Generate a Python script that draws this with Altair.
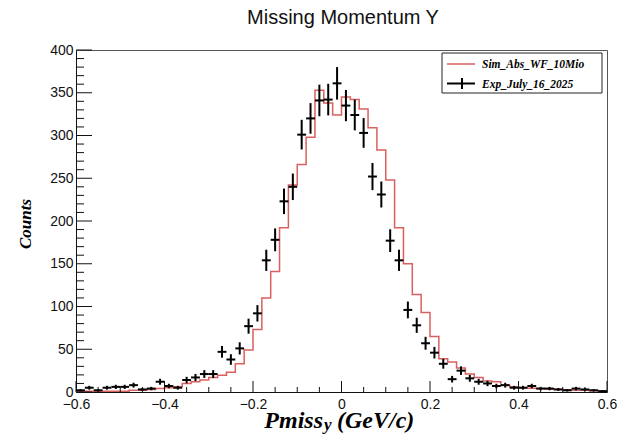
import altair as alt
import pandas as pd
import numpy as np

# ---- data (60 bins of width 0.02 from -0.6 to 0.6) ----
x_min = -0.6
bin_width = 0.02
sim_counts = [1, 1, 1, 1, 1, 1, 2, 2, 3, 4,
              5, 6, 10, 12, 14, 17, 19.5, 23, 33, 49,
              73, 110, 141, 192, 242, 266, 298, 353, 338, 324,
              345, 342, 331, 309, 283, 248, 192, 150, 114, 93,
              65, 39, 35, 28, 21, 17, 13, 12, 8, 6,
              5, 4.5, 4, 3.5, 3, 2.5, 2, 2, 1.5, 1]
exp_counts = [2, 5, 2, 5, 6, 6, 8, 3, 4, 12,
              7, 5, 14, 17, 21, 21, 47, 38, 51, 77,
              92, 154, 178, 223, 240, 301, 320, 341, 342, 361,
              335, 324, 303, 252, 231, 177, 154, 96, 78, 57,
              46, 33, 15, 25, 16, 12, 10, 7, 8, 5,
              5, 7, 4, 4, 3, 2, 4, 3, 2, 1]
x_tick_major = [-0.6, -0.4, -0.2, 0.0, 0.2, 0.4, 0.6]
y_tick_major = list(range(0, 401, 50))

n = len(sim_counts)
lo = [round(x_min + bin_width * i, 4) for i in range(n)]
hi = [round(v + bin_width, 4) for v in lo]
center = [round(v + bin_width / 2, 4) for v in lo]

step_df = pd.DataFrame({"x": lo + [hi[-1]], "y": sim_counts + [sim_counts[-1]]})
exp_df = pd.DataFrame({
    "c": center, "lo": lo, "hi": hi, "n": exp_counts,
    "elo": [v - np.sqrt(v) for v in exp_counts],
    "ehi": [v + np.sqrt(v) for v in exp_counts],
})

x_minor = [round(v, 3) for v in np.arange(-0.6, 0.6001, 0.05)
           if round(v, 3) not in [round(m, 3) for m in x_tick_major]]
y_minor = [v for v in range(0, 401, 10) if v % 50 != 0]

W, H = 531, 342
xs = alt.Scale(domain=[-0.6, 0.6], nice=False, zero=False)
ys = alt.Scale(domain=[0, 400], nice=False)

sans = "Liberation Sans"
serif = "Liberation Serif"

x_axis = alt.Axis(values=x_tick_major, tickSize=0, labelPadding=5, labelFlush=False,
                  labelExpr="datum.value == 0 ? '0' : format(datum.value, '.1f')",
                  labelFont=sans, labelFontSize=14, labelColor="#111", grid=False,
                  domainColor="#111", title=None)
y_axis = alt.Axis(values=y_tick_major, tickSize=0, labelPadding=3, labelFont=sans,
                  labelFontSize=14, labelColor="#111", grid=False, domainColor="#111",
                  title=None)

sim_line = alt.Chart(step_df).mark_line(interpolate="step-after", color="#d9605f",
                                         strokeWidth=1.5).encode(
    x=alt.X("x:Q", scale=xs, axis=x_axis),
    y=alt.Y("y:Q", scale=ys, axis=y_axis),
)

exp_v = alt.Chart(exp_df).mark_rule(color="black", strokeWidth=2).encode(
    x=alt.X("c:Q", scale=xs, axis=x_axis),
    y=alt.Y("elo:Q", scale=ys, axis=y_axis),
    y2="ehi:Q",
)
exp_h = alt.Chart(exp_df).mark_rule(color="black", strokeWidth=2).encode(
    x=alt.X("lo:Q", scale=xs, axis=x_axis),
    x2="hi:Q",
    y=alt.Y("n:Q", scale=ys, axis=y_axis),
)

# inward ticks (ROOT style)
xmaj = alt.Chart(pd.DataFrame({"v": x_tick_major})).mark_rule(color="#111").encode(
    x=alt.X("v:Q", scale=xs, axis=x_axis), y=alt.value(H), y2=alt.value(H - 11))
xmin_ = alt.Chart(pd.DataFrame({"v": x_minor})).mark_rule(color="#111").encode(
    x=alt.X("v:Q", scale=xs, axis=x_axis), y=alt.value(H), y2=alt.value(H - 5))
ymaj = alt.Chart(pd.DataFrame({"v": y_tick_major})).mark_rule(color="#111").encode(
    y=alt.Y("v:Q", scale=ys, axis=y_axis), x=alt.value(0), x2=alt.value(16))
ymin_ = alt.Chart(pd.DataFrame({"v": y_minor})).mark_rule(color="#111").encode(
    y=alt.Y("v:Q", scale=ys, axis=y_axis), x=alt.value(0), x2=alt.value(8))


def label(text, x, y, **kw):
    return alt.Chart(pd.DataFrame({"t": [text]})).mark_text(**kw).encode(
        x=alt.value(x), y=alt.value(y), text="t:N")


def one():
    return pd.DataFrame({"a": [0]})


title = label("Missing Momentum Y", 267, -26, font=sans, fontSize=20, color="#111",
              align="center", baseline="alphabetic")
ylab = label("Counts", -45, 174, font=serif, fontSize=17, fontStyle="italic",
             fontWeight="bold", angle=270, align="center", baseline="alphabetic", color="black")
xlab1 = label("Pmiss", 247, 378, font=serif, fontSize=24, fontStyle="italic",
              fontWeight="bold", align="right", baseline="alphabetic", color="black")
xlab2 = label("y", 248, 380, font=serif, fontSize=17, fontStyle="italic",
              fontWeight="bold", align="left", baseline="alphabetic", color="black")
xlab3 = label("(GeV/c)", 261, 378, font=serif, fontSize=24, fontStyle="italic",
              fontWeight="bold", align="left", baseline="alphabetic", color="black")

leg_box = alt.Chart(one()).mark_rect(fill="white", stroke="#222", strokeWidth=1).encode(
    x=alt.value(366), x2=alt.value(526), y=alt.value(3), y2=alt.value(43))
leg_red = alt.Chart(one()).mark_rule(color="#d9605f", strokeWidth=1.5).encode(
    x=alt.value(371), x2=alt.value(399), y=alt.value(14))
leg_bh = alt.Chart(one()).mark_rule(color="black", strokeWidth=2).encode(
    x=alt.value(371), x2=alt.value(399), y=alt.value(33.5))
leg_bv = alt.Chart(one()).mark_rule(color="black", strokeWidth=2).encode(
    x=alt.value(386), y=alt.value(28), y2=alt.value(39))
leg_t1 = label("Sim_Abs_WF_10Mio", 406, 18, font=serif, fontSize=11.5, fontStyle="italic",
               fontWeight="bold", align="left", baseline="alphabetic", color="black")
leg_t2 = label("Exp_July_16_2025", 406, 37.5, font=serif, fontSize=11.5, fontStyle="italic",
               fontWeight="bold", align="left", baseline="alphabetic", color="black")

chart = alt.layer(
    sim_line, exp_v, exp_h, xmaj, xmin_, ymaj, ymin_,
    title, ylab, xlab1, xlab2, xlab3,
    leg_box, leg_red, leg_bh, leg_bv, leg_t1, leg_t2,
).properties(
    width=W, height=H,
    padding={"left": 76, "top": 50, "right": 19, "bottom": 44},
    autosize=alt.AutoSizeParams(type="none"),
    background="white",
).configure_view(stroke="#555", strokeWidth=1)

chart.save("out.html", embed_options={"renderer": "svg", "actions": False})
